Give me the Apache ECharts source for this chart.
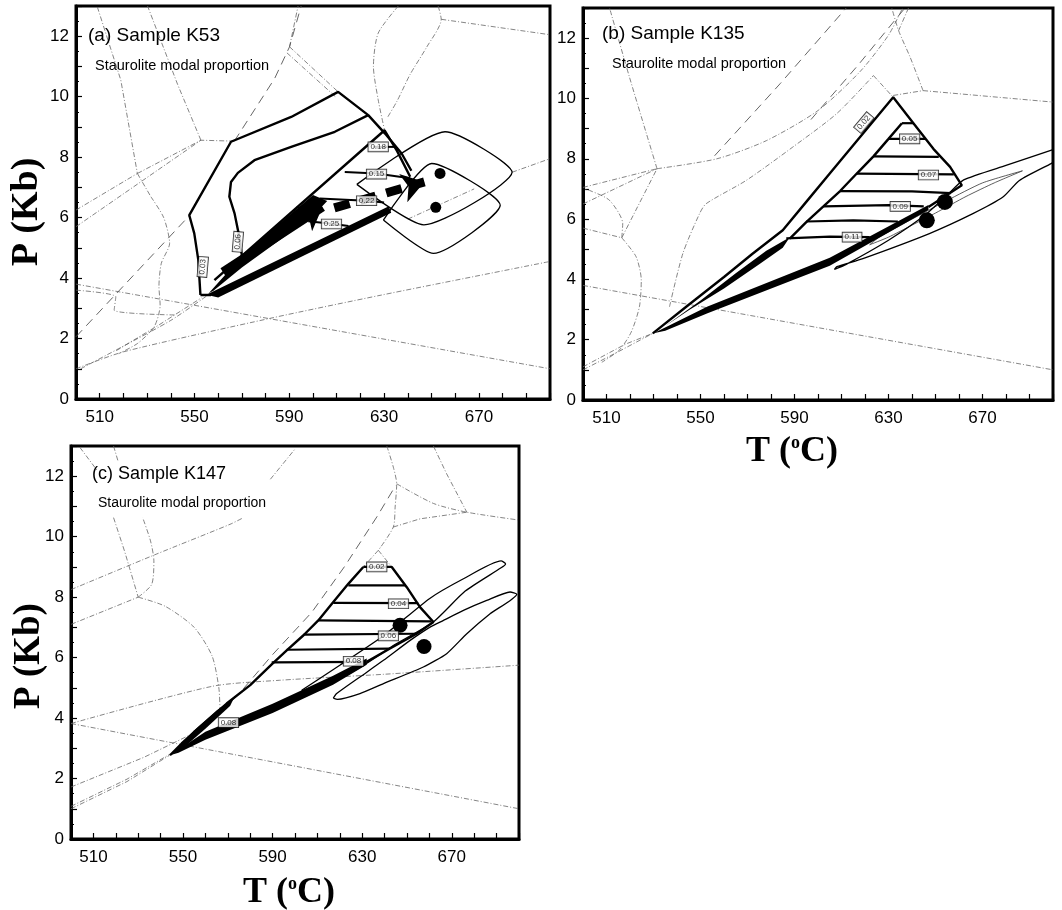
<!DOCTYPE html>
<html><head><meta charset="utf-8">
<script src="https://cdn.jsdelivr.net/npm/echarts@6/dist/echarts.min.js"></script>
<style>html,body{margin:0;padding:0;background:#fff}#c{width:1062px;height:910px}</style>
</head><body><div id="c"></div>
<script>
// ---------- axis ticks ----------
const tLabels = [510, 550, 590, 630, 670];
const pLabels = [0, 2, 4, 6, 8, 10, 12];
const panelTitles = ['(a) Sample K53', '(b) Sample K135', '(c) Sample K147'];
const subTitle = 'Staurolite modal proportion';

// ---------- panel (a) K53 ----------
const aOuter = [[552.5,3.44],[551.6,4.6],[549.9,5.48],[547.8,6.08],[565.4,8.51],[590.8,9.33],[610.6,10.16],[623.3,9.39],[630.4,8.78],[637.4,8.12],[641.5,7.55]];
const aOuterFoot = [[552.5,3.44],[557,3.44]];
const aInner = [[570.4,4.54],[568.6,5.48],[566.9,6.14],[564.7,6.69],[565.4,7.18],[568.3,7.48],[575.3,7.9],[590.8,8.34],[609.2,8.84],[623.3,9.39]];
const aTriangle = [[558.4,3.93],[630.2,8.89],[635.5,8.2],[641,7.35]];
const aLowerBand = [[555,3.45],[632,6.38],[633,6.16],[560,3.36]];
const aWedge = [[556,3.5],[570,4.72],[585,5.75],[600,6.75],[606,6.55],[600,6.05],[585,5.2],[570,4.35],[558,3.58]];
const aContours = [
  [[625.5,8.34],[634.5,8.34]],
  [[613.4,7.51],[626.8,7.46],[641,7.3]],
  [[602.8,6.63],[622.6,6.56],[630,6.5]],
  [[598,5.88],[607.8,5.8],[615,5.72]]
];
const aLabels = [[553.5,4.37,'0.03',85],[568.3,5.2,'0.06',85],[627.5,8.34,'0.18',0],[626.8,7.44,'0.15',0],[622.6,6.56,'0.22',0],[607.8,5.79,'0.25',0]];
const aPathSolid = [[562,4.2],[604,6.35]];
const aPathDashed = [[609,6.32],[647,7.18]];
const aDots = [[653.6,7.46],[651.8,6.34]];
const aDiamond1 = [[618.5,7.1],[655.7,8.84],[684,7.5],[646.8,5.76],[618.5,7.1]];
const aDiamond2 = [[629.7,5.92],[650.1,7.79],[679,6.41],[650.8,4.82],[629.7,5.92]];
const aThin = [
  [[500,3.8],[700,1.0]],
  [[500,1.0],[520,1.56],[582,2.67],[629,3.44],[700,4.55]],
  [[502,1.0],[520,1.75],[540,2.6],[555,3.4]],
  [[517,1.6],[535,2.45],[553,3.35]],
  [[500,3.6],[516.8,3.38],[516.1,2.94],[541.5,2.78]],
  [[531.6,6.69],[537,6.0],[539.5,5.15],[536,4.49],[535,3.72],[535.5,3.1],[533,2.39],[526,1.84],[518,1.5]],
  [[509,12.97],[518.9,10.55],[525.9,7.46]],
  [[525.9,7.46],[552.7,8.56],[566.8,8.53]],
  [[552.7,8.56],[542.9,10.4],[530.2,13]],
  [[500,6.25],[525.9,7.46]],
  [[500,5.7],[552.7,8.56]],
  [[525.9,7.46],[531.6,6.69]],
  [[590.1,11.65],[593.7,13]],
  [[590.1,11.65],[610.6,10.16]],
  [[589,11.45],[609.5,10.0]],
  [[636,13],[627.5,12.1],[625.5,11.0],[627.5,9.9],[630.2,8.89]],
  [[652.8,13],[654.1,12.56],[647.9,11.63],[641,10.74],[635.5,9.86],[631.4,9.31]],
  [[654.1,12.56],[700,12.05]],
  [[684,7.5],[700,7.95]],
  [[640,5.95],[668,6.95]]
];
const aDashed = [
  [[500,2.06],[548,6.08]],
  [[566.8,8.53],[583.8,10.6],[590.1,11.65],[595,13]]
];

// ---------- panel (b) K135 ----------
const bOuter = [[529.7,2.21],[545,3.16],[560,4.08],[572,4.84],[585,5.63],[595,6.57],[605,7.51],[618,8.73],[632,10.04],[640.6,9.18],[649.1,8.33],[656.2,7.73],[661.2,7.12],[647,6.4]];
const bLeftEdge = [[588,5.35],[595,5.9],[602.3,6.42],[609.4,6.93],[616.5,7.51],[623.6,8.08],[630,8.66],[635.7,9.18]];
const bSpindle = [[535,2.45],[550,3.3],[565,4.2],[578,4.95],[588,5.4],[585,5.05],[575,4.5],[560,3.7],[545,2.98],[535,2.45]];
const bLowerBand = [[530,2.21],[553,3.1],[605,4.72],[647,6.47],[647,6.3],[605,4.45],[553,2.88],[535,2.3]];
const bContours = [
  [[635.7,9.18],[640.6,9.18]],
  [[630,8.66],[645.8,8.66]],
  [[623.6,8.08],[651.4,8.06]],
  [[616.5,7.51],[657.8,7.48]],
  [[609.4,6.93],[640,6.92],[656.5,6.86]],
  [[602.3,6.42],[630,6.46],[645,6.42]],
  [[595,5.92],[615,5.96],[634,5.92]],
  [[586.5,5.36],[605,5.42],[622,5.4]]
];
const bLabels = [[619.5,9.2,'0.02',50],[639,8.66,'0.05',0],[647,7.46,'0.07',0],[635,6.42,'0.09',0],[614.5,5.4,'0.11',0]];
const bDots = [[654,6.57],[646.3,5.96]];
const bShapeOuter = [[700,8.3],[680,7.78],[662,7.3],[655,6.8],[645,6.1],[630,5.3],[612,4.5],[607,4.33],[608,4.42],[619.1,4.69],[647.4,5.52],[665.9,6.18],[678.7,6.73],[685.7,7.28],[699.2,7.84],[700,7.87]];
const bShapeInner = [[687,7.6],[675,7.2],[663,6.75],[650,6.2],[640,5.8],[630,5.4],[622,5.15],[626,5.4],[640,6.0],[655,6.62],[670,7.2],[687,7.6]];
const bThin = [
  [[500,3.8],[700,1.0]],
  [[500,1.0],[515,1.6],[529.7,2.21]],
  [[500,1.1],[518,1.85],[529.7,2.21]],
  [[516.5,5.38],[522.6,4.75],[524.8,3.97],[524,3.09],[520.5,2.25],[515.5,1.66],[508,1.25]],
  [[516.5,5.38],[516.9,5.85],[511.3,6.62],[502.8,6.95],[500,7.0]],
  [[500,5.7],[516.5,5.38]],
  [[516.5,5.38],[523.9,6.51],[531.5,7.67]],
  [[500,7.05],[531.5,7.67]],
  [[500,6.5],[531.5,7.67]],
  [[531.5,7.67],[527,8.83],[519.8,10.7],[511.3,13]],
  [[531.5,7.67],[557,8.0],[578,8.6],[600,9.6],[618,10.9],[630,12.1],[636,13]],
  [[536.8,3.09],[542.5,4.86],[549.6,6.18],[552.4,6.51],[569.4,7.28],[589.3,8.39],[608,9.5],[623.6,10.76]],
  [[623.6,10.76],[632,10.04]],
  [[632,10.1],[644.7,10.26]],
  [[644.7,10.26],[639.2,11.37],[634.3,12.25],[631.4,13]],
  [[638.5,13],[634.3,12.25]],
  [[644.7,10.26],[700,9.88]]
];
const bDashed = [
  [[556,8.1],[584,10.5],[612,13]],
  [[597,9.3],[617,11.1],[637,13]]
];

// ---------- panel (c) K147 ----------
const cLeftEdge = [[544.2,2.77],[549.4,3.16],[557.6,3.71],[569.5,4.48],[580,5.09],[589.6,5.78],[596.3,6.24],[603.8,6.74],[610.4,7.23],[617.1,7.84],[623.8,8.44],[630.5,9.0]];
const cRight = [[630.5,9.0],[643.2,9.0],[649.9,8.33],[655.8,7.67],[661.8,7.18],[654.3,6.79],[642.4,6.3],[632,5.86]];
const cLowerBand = [[544.2,2.77],[560,3.55],[590,4.47],[617,5.4],[632,5.97],[632,5.76],[617,5.1],[590,4.17],[560,3.28],[548,2.85]];
const cSpindle = [[544.2,2.77],[555,3.6],[565,4.25],[573,4.7],[571,4.4],[560,3.65],[550,3.0]];
const cContours = [
  [[623.8,8.39],[649.3,8.39]],
  [[617.1,7.81],[655,7.8]],
  [[610.4,7.23],[661,7.2]],
  [[603.8,6.76],[654,6.79]],
  [[596.3,6.26],[642.4,6.3]],
  [[589.6,5.84],[632,5.86]]
];
const cLabels = [[636.5,9.0,'0.02',0],[646.2,7.78,'0.04',0],[641.7,6.72,'0.06',0],[626.1,5.88,'0.08',0],[570.3,3.85,'0.08',0]];
const cDots = [[646.9,7.07],[657.6,6.37]];
const cShape1 = [[603,4.92],[620,5.75],[640,6.75],[660,7.95],[675,8.6],[692,9.2],[694,9.1],[692,8.97],[676,8.2],[661.8,7.18],[645,6.45],[630,5.72],[615,5.12],[604,4.85],[603,4.92]];
const cShape2 = [[617.1,4.66],[618.6,4.81],[629,5.36],[639.5,5.91],[651.4,6.57],[660.3,7.01],[666.3,7.23],[675.2,7.56],[685.6,7.89],[696,8.17],[699,8.1],[687.1,7.45],[676.7,6.79],[667.7,6.13],[657.3,5.69],[639.5,5.14],[629,4.81],[619,4.62],[617.1,4.66]];
const cThin = [
  [[500,3.82],[700,1.0]],
  [[500,1.0],[525,1.9],[544,2.77]],
  [[500,1.08],[525,1.98],[544,2.8]],
  [[500,3.82],[563,5.05],[593,5.25],[640,5.45],[700,5.75]],
  [[500,8.25],[538,9.42],[571,10.41],[577,10.63]],
  [[500,7.1],[530,8.0]],
  [[519,10.63],[524,9.5],[530,8.0]],
  [[530,8.0],[536,8.42],[537,9.2],[535.5,9.86],[532,10.63]],
  [[530,8.0],[542,7.7],[555,7.0],[563,6.05],[566,5.0],[566.5,4.3]],
  [[504,12.95],[511.9,12.17]],
  [[519,13],[521,12.5]],
  [[500,1.72],[532.5,2.7],[557.5,3.6]],
  [[589,11.9],[600,12.9]],
  [[641,13],[643.9,12.3],[645.4,11.75],[644.7,10.98],[643.9,10.32],[637.2,9.55]],
  [[645.4,11.75],[661.8,11.1],[676.7,10.81],[700,10.55]],
  [[643.9,10.32],[655.8,10.59],[676.7,10.81]],
  [[661.8,13],[667.7,12.08],[676.7,10.81]],
  [[637.2,9.55],[630.5,9.0]],
  [[637.2,9.55],[643.2,9.0]]
];
const cDashed = [
  [[557.5,3.6],[575,4.8],[590,6.1],[607.5,7.5],[622,9.0],[636.5,10.65],[645,11.7]]
];

// ---------- builders ----------
const SANS = '"Liberation Sans", Arial, sans-serif';
const SERIF = '"Liberation Serif", "Times New Roman", serif';
const series = [];

function lineS(g, pts, style, z, smooth) {
  series.push({type:'line', xAxisIndex:g, yAxisIndex:g, data:pts, showSymbol:false, symbol:'none',
    silent:true, animation:false, smooth: smooth || false, z: z || 2, clip:true,
    lineStyle: style});
}
function thinS(g, lines) {
  lines.forEach(l => lineS(g, l, {color:'#666', width:0.8, type:[5,2,1,2]}, 2, l.length > 3 ? 0.25 : false));
}
function dashS(g, lines) {
  lines.forEach(l => lineS(g, l, {color:'#555', width:0.9, type:[9,6]}, 2, false));
}
function thickS(g, pts, w) { lineS(g, pts, {color:'#000', width:w || 2.4, type:'solid'}, 5, false); }
function outlineS(g, pts) { lineS(g, pts, {color:'#000', width:1.3, type:'solid'}, 4, 0.2); }
function polyS(g, pts) {
  series.push({type:'custom', xAxisIndex:g, yAxisIndex:g, silent:true, animation:false, z:5, clip:true,
    data:[pts[0]],
    renderItem: (params, api) => ({type:'polygon', shape:{points: pts.map(p => api.coord(p))}, style:{fill:'#000'}})
  });
}
function dotS(g, pts, size) {
  series.push({type:'scatter', xAxisIndex:g, yAxisIndex:g, data:pts, symbol:'circle', symbolSize:size,
    itemStyle:{color:'#000', opacity:1}, silent:true, animation:false, z:9});
}
function labelS(g, items) {
  series.push({type:'scatter', xAxisIndex:g, yAxisIndex:g, symbol:'circle', symbolSize:1,
    itemStyle:{color:'rgba(0,0,0,0)'}, silent:true, animation:false, z:10,
    data: items.map(it => ({value:[it[0], it[1]], label:{show:true, formatter:it[2], rotate:it[3]}})),
    label:{show:true, position:'inside', fontSize:8, color:'#000', fontFamily:SANS,
      backgroundColor:'#fff', borderColor:'#000', borderWidth:0.8, padding:[1,2,0,2]}
  });
}
function arrowS(g, pts, dashed) {
  series.push({type:'lines', coordinateSystem:'cartesian2d', xAxisIndex:g, yAxisIndex:g, silent:true, animation:false, z:7,
    symbol:['none','arrow'], symbolSize:[1,22],
    lineStyle:{color:'#000', width:9, opacity:1, type: dashed ? [16,11] : 'solid'},
    data:[{coords: pts}]});
}

// panel a
thinS(0, aThin); dashS(0, aDashed);
thickS(0, aOuter); thickS(0, aOuterFoot); thickS(0, aInner); thickS(0, aTriangle);
aContours.forEach(c => thickS(0, c, 2));
polyS(0, aLowerBand); polyS(0, aWedge);
arrowS(0, aPathSolid, false); arrowS(0, aPathDashed, true);
outlineS(0, aDiamond1); outlineS(0, aDiamond2);
dotS(0, aDots, 11); labelS(0, aLabels);

// panel b
thinS(1, bThin); dashS(1, bDashed);
outlineS(1, bShapeOuter); lineS(1, bShapeInner, {color:'#333', width:0.8}, 3, 0.2);
thickS(1, bOuter); thickS(1, bLeftEdge);
bContours.forEach(c => thickS(1, c, 2.2));
polyS(1, bSpindle); polyS(1, bLowerBand);
dotS(1, bDots, 16); labelS(1, bLabels);

// panel c
thinS(2, cThin); dashS(2, cDashed);
outlineS(2, cShape1); outlineS(2, cShape2);
thickS(2, cLeftEdge); thickS(2, cRight);
cContours.forEach(c => thickS(2, c, 2.2));
polyS(2, cLowerBand); polyS(2, cSpindle);
dotS(2, cDots, 15); labelS(2, cLabels);

// ---------- axes ----------
const grids = [
  {left:76, top:6, width:474, height:393},
  {left:583, top:8, width:470, height:392},
  {left:71, top:446, width:448, height:393}
];
const xAxes = grids.map((g, i) => ({
  gridIndex:i, type:'value', min:500, max:700, interval:10,
  axisLine:{show:true, onZero:false, lineStyle:{color:'#000', width:3}},
  axisTick:{show:true, inside:true, length:6, lineStyle:{color:'#000', width:1.2}},
  axisLabel:{show:true, margin:10, color:'#000', fontSize:17, fontFamily:SANS,
    formatter: v => tLabels.includes(v) ? String(v) : ''},
  splitLine:{show:false}
}));
const yAxes = grids.map((g, i) => ({
  gridIndex:i, type:'value', min:0, max:13, interval:1,
  axisLine:{show:true, onZero:false, lineStyle:{color:'#000', width:3}},
  axisTick:{show:true, inside:true, length:6, lineStyle:{color:'#000', width:1.2}},
  minorTick:{show:true, splitNumber:2, length:3, lineStyle:{color:'#000', width:1}},
  axisLabel:{show:true, margin:7, color:'#000', fontSize:17, fontFamily:SANS,
    formatter: v => pLabels.includes(v) ? String(v) : ''},
  splitLine:{show:false}
}));

function txt(x, y, text, size, opts) {
  return Object.assign({type:'text', x:x, y:y, silent:true, z:100,
    style:{text:text, fill:'#000', fontSize:size, fontFamily:SANS,
      textAlign:'left', align:'left', textVerticalAlign:'middle', verticalAlign:'middle'}}, opts || {});
}
const tTitle = (x, y) => ({type:'text', x:x, y:y, silent:true, z:100,
  style:{text:'{m|T (}{s|o}{m|C)}', fill:'#000', textAlign:'center', align:'center',
    textVerticalAlign:'middle', verticalAlign:'middle',
    rich:{m:{fontSize:36, fontFamily:SERIF, fontWeight:'bold', fill:'#000'},
          s:{fontSize:18, fontFamily:SERIF, fontWeight:'bold', fill:'#000', verticalAlign:'top'}}}});
const pTitle = (x, y, size) => ({type:'text', x:x, y:y, rotation:Math.PI/2, silent:true, z:100,
  style:{text:'P (Kb)', fill:'#000', fontSize:size, fontFamily:SERIF, fontWeight:'bold',
    textAlign:'center', align:'center', textVerticalAlign:'middle', verticalAlign:'middle'}});

const graphic = [
  txt(88, 36, panelTitles[0], 19), txt(95, 66, subTitle, 14.5),
  txt(602, 34, panelTitles[1], 19), txt(612, 64, subTitle, 14.5),
  txt(92, 474, panelTitles[2], 18), txt(98, 503, subTitle, 14),
  pTitle(27, 212, 38), pTitle(29, 656, 37),
  tTitle(792, 452), tTitle(289, 893)
];

const chart = echarts.init(document.getElementById('c'), null, {renderer:'canvas'});
chart.setOption({
  animation:false, backgroundColor:'#fff',
  grid: grids.map(g => Object.assign({show:true, borderColor:'#000', borderWidth:3, backgroundColor:'rgba(0,0,0,0)'}, g)),
  xAxis: xAxes, yAxis: yAxes, series: series, graphic: graphic
});
</script></body></html>
